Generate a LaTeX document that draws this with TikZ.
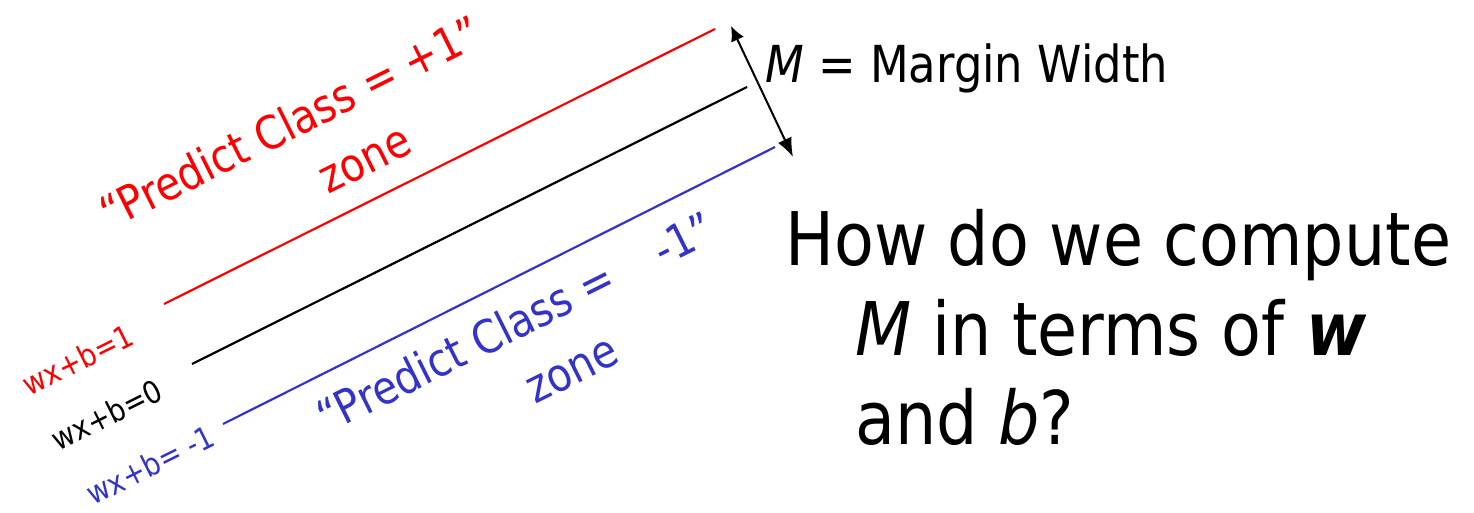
\documentclass[tikz,border=0pt]{standalone}
\usepackage{fontspec}
\setmainfont{DejaVu Sans}[FakeStretch=0.88]
\usepackage{tikz}
\usetikzlibrary{arrows.meta}
\definecolor{minusblue}{RGB}{51,51,204}

\begin{document}
\begin{tikzpicture}[x=1pt, y=-1pt, line join=round,
    hyper/.style={line width=2.2pt},
    tilted/.style={rotate=26.5, inner sep=0pt},
    ]
    \useasboundingbox (0,0) rectangle (1474,512);

    % three parallel hyperplanes, all at about 26.5 degrees
    \coordinate (P1) at (164,304);
    \coordinate (Q1) at (715,29);
    \coordinate (P0) at (192,364);
    \coordinate (Q0) at (747,87);
    \coordinate (Pm) at (223,424);
    \coordinate (Qm) at (775,147);

    \draw[hyper, red] (P1) -- (Q1);        % wx+b=1
    \draw[hyper, black] (P0) -- (Q0);      % wx+b=0
    \draw[hyper, minusblue] (Pm) -- (Qm);  % wx+b=-1

    % margin width arrow across the three lines
    \coordinate (Mtop) at (731,26);
    \coordinate (Mbot) at (793,157);
    \draw[line width=2pt, {Latex[length=15pt,width=14pt]}-{Latex[length=19pt,width=15pt]}] (Mtop) -- (Mbot);

    % line labels
    \node[tilted, red, font=\fontsize{31}{36}\selectfont] (lab1) at (78,360) {wx+b=1};
    \node[tilted, black, font=\fontsize{31}{36}\selectfont] (lab0) at (107,415) {wx+b=0};
    \node[tilted, minusblue, font=\fontsize{31}{36}\selectfont] (labm) at (150,465) {wx+b= -1};

    % zone texts
    \node[tilted, red, font=\fontsize{46}{54}\selectfont] (plus) at (290,122) {“Predict Class = +1”};
    \node[tilted, red, font=\fontsize{46}{54}\selectfont] (pluszone) at (366,162) {zone};
    \node[tilted, minusblue, font=\fontsize{46}{54}\selectfont] (minus) at (515,322) {“Predict Class =\hspace{50pt}-1”};
    \node[tilted, minusblue, font=\fontsize{46}{54}\selectfont] (minuszone) at (573,372) {zone};

    % margin caption and question
    \node[anchor=base west, inner sep=0pt, font=\fontsize{51}{60}\selectfont] (mw) at (765,82) {\textit{M} = Margin Width};
    \node[anchor=base west, inner sep=0pt, font=\fontsize{74}{88}\selectfont] (q1) at (785,265) {How do we compute};
    \node[anchor=base west, inner sep=0pt, font=\fontsize{74}{88}\selectfont] (q2) at (855,355) {\textit{M} in terms of \textbf{\textit{w}}};
    \node[anchor=base west, inner sep=0pt, font=\fontsize{74}{88}\selectfont] (q3) at (855,444) {and \textit{b}?};

\end{tikzpicture}
\end{document}
